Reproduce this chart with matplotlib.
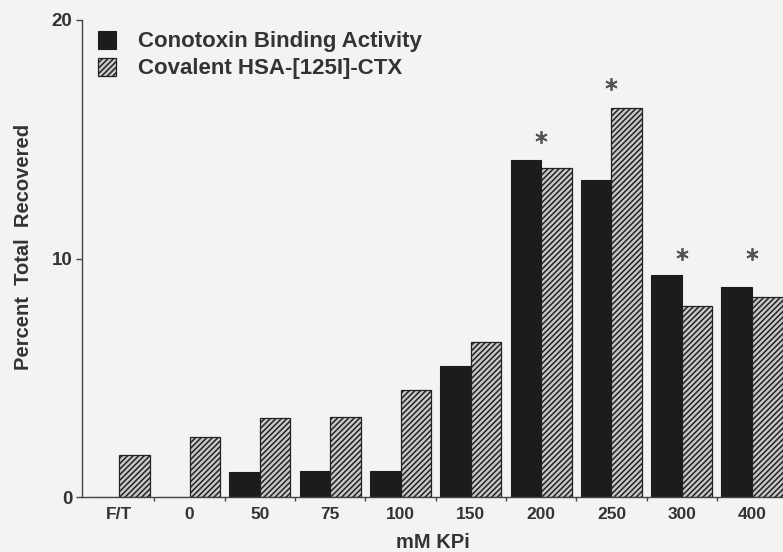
import matplotlib
matplotlib.use("Agg")
import matplotlib.pyplot as plt
import numpy as np

categories = ["F/T", "0", "50", "75", "100", "150", "200", "250", "300", "400"]
conotoxin = [0.0, 0.0, 1.05, 1.1, 1.1, 5.5, 14.15, 13.3, 9.3, 8.8]
covalent = [1.75, 2.5, 3.3, 3.35, 4.5, 6.5, 13.8, 16.3, 8.0, 8.4]
star_idx = [6, 7, 8, 9]
star_y = [15.1, 17.3, 10.2, 10.2]

plt.rcParams['font.family'] = ['Liberation Sans', 'DejaVu Sans']
plt.rcParams['hatch.linewidth'] = 1.1
plt.rcParams['hatch.color'] = '#2b2b2b'

bg = '#f3f3f1'
txt = '#333333'
fig = plt.figure(figsize=(7.83, 5.52), dpi=100, facecolor=bg)
ax = fig.add_axes([82/783, 1-497/552, 1-82/783, (497-20)/552])
ax.set_facecolor(bg)

x = np.arange(len(categories))
w = 0.435
ax.bar(x - w/2, conotoxin, w, color='#1c1c1c', edgecolor='#1c1c1c', linewidth=0.8,
       label='Conotoxin Binding Activity')
ax.bar(x + w/2, covalent, w, color='#c8c8c8', edgecolor='#222222', linewidth=0.9,
       hatch='//////', label='Covalent HSA-[125I]-CTX')

ax.plot([x[i] for i in star_idx], star_y, linestyle='none', marker=(6, 2, 0),
        markersize=9, markeredgewidth=1.3, color='#555555')

ax.set_xlim(-0.53, 9.44)
ax.set_ylim(0, 20)
for s in ['top', 'right']:
    ax.spines[s].set_visible(False)
for s in ['left', 'bottom']:
    ax.spines[s].set_color('#444444')
    ax.spines[s].set_linewidth(1.0)

ax.set_yticks([0, 10, 20])
ax.set_yticklabels(['0', '10', '20'], fontsize=13.5, fontweight='bold', color=txt)
ax.tick_params(axis='y', length=4, width=1, color='#444444', pad=3)
ax.set_xticks(x)
ax.set_xticklabels(categories, fontsize=12.5, fontweight='bold', color=txt)
ax.set_xticks(np.arange(0.5, 9, 1), minor=True)
ax.tick_params(axis='x', which='major', length=0, pad=7)
ax.tick_params(axis='x', which='minor', length=3, width=1, color='#444444')

ax.set_xlabel('mM KPi', fontsize=14.5, fontweight='bold', color=txt, labelpad=8)
ax.set_ylabel('Percent  Total  Recovered', fontsize=14.5, fontweight='bold', color=txt)
ax.yaxis.set_label_coords(-0.07, 0.525)

leg = ax.legend(loc='upper left', bbox_to_anchor=(0.0, 1.01), frameon=False,
                prop={'size': 16, 'weight': 'bold'}, handlelength=0.85, handleheight=0.85,
                handletextpad=0.95, labelspacing=0.25, borderaxespad=0.3)
for t in leg.get_texts():
    t.set_color(txt)

fig.savefig('out.png', dpi=100, facecolor=bg)
